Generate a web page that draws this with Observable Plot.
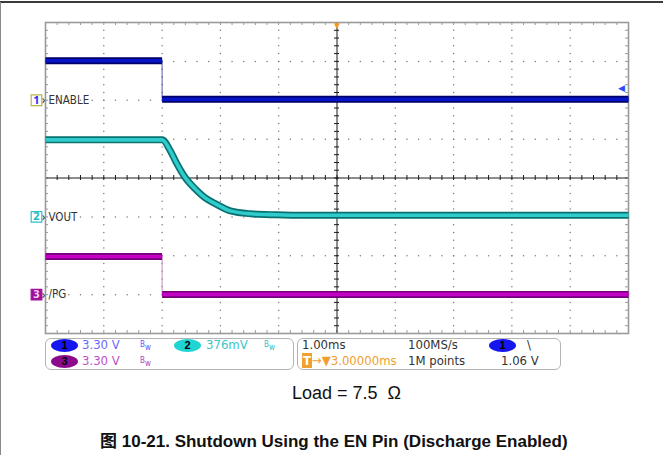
<!DOCTYPE html>
<html><head><meta charset="utf-8">
<script src="https://cdn.jsdelivr.net/npm/d3@7"></script>
<script src="https://cdn.jsdelivr.net/npm/@observablehq/plot@0.6"></script>
<style>
body{margin:0;background:#fff;}
#wrap{position:relative;width:663px;height:455px;overflow:hidden;font-family:"Liberation Sans",Arial,sans-serif;background:#fff;}
#chart{position:absolute;left:0;top:0;}
.abs{position:absolute;white-space:pre;}
.box{position:absolute;border:1px solid #b4b4b4;border-radius:6px;box-sizing:border-box;}
.st{position:absolute;white-space:pre;font-family:"Liberation Sans Narrow","DejaVu Sans Condensed",Arial,sans-serif;font-size:13px;line-height:14px;}
.badge{position:absolute;width:27px;height:13px;border-radius:50%;text-align:center;font-family:"Liberation Sans",Arial,sans-serif;font-weight:bold;font-size:11px;line-height:13px;color:#000;}
.bw{position:absolute;font-family:"DejaVu Sans Condensed",Arial,sans-serif;font-size:8px;line-height:9px;white-space:pre;}
.bw span{display:inline-block;vertical-align:top;}
</style></head>
<body><div id="wrap">
<div id="chart"></div>
</div>
<script>
// ---- data (time in ms relative to EN falling edge, volts) ----
const enableTimes = [-2, 0, 0, 8];
const enableVolts = [3.35, 3.35, 0.08, 0.08];
const voutTimes = [-2, 0, 0.14, 0.23, 0.40, 0.57, 0.74, 0.92, 1.17, 1.52, 1.95, 2.5, 8];
const voutVolts = [0.745, 0.745, 0.64, 0.54, 0.377, 0.27, 0.184, 0.126, 0.058, 0.03, 0.02, 0.015, 0.015];
const pgTimes = [-2, 0, 0, 8];
const pgVolts = [3.24, 3.24, 0.02, 0.02];

// scope settings
const channelIds = ["1", "2", "3"];
const channelNames = ["ENABLE", "VOUT", "/PG"];
const channelScales = [3.30, 0.376, 3.30];   // V/div
const channelOffsets = [2, -1, -3];          // ground position, div
const timeDomain = [-2, 8];                  // 1.00 ms/div, 10 div
const divDomain = [-4, 4];                   // 8 div
const triggerLevel = 1.06;                   // V on ch1
const horizPos = 3;                          // ms (center of screen)

const statusLeft = ["3.30 V", "376mV", "3.30 V"];
const statusRight = ["1.00ms", "100MS/s", "3.00000ms", "1M points", "1.06 V"];
const captionLoad = "Load = 7.5  Ω";
const captionTitle = "图 10-21. Shutdown Using the EN Pin (Discharge Enabled)";

// ---- derived rows ----
const r2 = v => Math.round(v * 1000) / 1000;
function rows(times, volts, ch, stepped) {
  return times.map((t, i) => ({t, y: channelOffsets[ch] + volts[i] / channelScales[ch], seg: stepped ? (i < 2 ? 0 : 1) : 0}));
}
const enRows = rows(enableTimes, enableVolts, 0, true);
const voRows = rows(voutTimes, voutVolts, 1, false);
const pgRows = rows(pgTimes, pgVolts, 2, true);

// grid
const minorX = d3.range(timeDomain[0] * 5, timeDomain[1] * 5 + 1).map(v => r2(v / 5));
const minorY = d3.range(divDomain[0] * 5, divDomain[1] * 5 + 1).map(v => r2(v / 5));
const majorX = d3.range(timeDomain[0] + 1, timeDomain[1]).filter(v => v !== horizPos);
const majorY = d3.range(divDomain[0] + 1, divDomain[1]).filter(v => v !== 0);
const gridDots = [];
for (const x of majorX) for (const y of minorY) gridDots.push({x, y});
for (const y of majorY) for (const x of minorX) gridDots.push({x, y});

const pxX = (timeDomain[1] - timeDomain[0]) / 583; // ms per px
const pxY = (divDomain[1] - divDomain[0]) / 311;   // div per px

const colors = {
  body: ["#0414c8", "#30cccc", "#c400c4"],
  edge: ["#00006a", "#0a7070", "#76007a"]
};

function trace(data, ch, curve) {
  return [
    Plot.line(data, {x: "t", y: "y", z: "seg", stroke: colors.edge[ch], strokeWidth: 7, strokeLinecap: "butt", strokeLinejoin: "miter", curve}),
    Plot.line(data, {x: "t", y: "y", z: "seg", stroke: colors.body[ch], strokeWidth: 3.6, strokeLinecap: "butt", strokeLinejoin: "miter", curve})
  ];
}

const chart = Plot.plot({
  width: 663, height: 340,
  marginLeft: 45, marginRight: 35, marginTop: 22, marginBottom: 7,
  x: {domain: timeDomain, axis: null},
  y: {domain: divDomain, axis: null},
  style: {background: "transparent", overflow: "visible"},
  marks: [
    Plot.dot(gridDots, {x: "x", y: "y", r: 0.75, fill: "#7a7a7a", stroke: null}),
    // edge ticks
    Plot.ruleX(minorX, {y1: divDomain[1], y2: divDomain[1] - 3 * pxY, stroke: "#999"}),
    Plot.ruleX(minorX, {y1: divDomain[0], y2: divDomain[0] + 3 * pxY, stroke: "#999"}),
    Plot.ruleY(minorY, {x1: timeDomain[0], x2: timeDomain[0] + 3 * pxX, stroke: "#999"}),
    Plot.ruleY(minorY, {x1: timeDomain[1], x2: timeDomain[1] - 3 * pxX, stroke: "#999"}),
    // center cross
    Plot.ruleX([horizPos], {stroke: "#1a1a1a", strokeWidth: 1}),
    Plot.ruleY([0], {stroke: "#1a1a1a", strokeWidth: 1}),
    Plot.ruleY(minorY, {x1: horizPos - 2.5 * pxX, x2: horizPos + 2.5 * pxX, stroke: "#1a1a1a"}),
    Plot.ruleX(minorX, {y1: -2.5 * pxY, y2: 2.5 * pxY, stroke: "#1a1a1a"}),
    Plot.frame({stroke: "#9a9a9a", strokeWidth: 1.6}),
    // vertical edges
    Plot.ruleX([enableTimes[1]], {y1: enRows[1].y, y2: enRows[2].y, stroke: "#5a5aa8", strokeWidth: 1}),
    Plot.ruleX([pgTimes[1]], {y1: pgRows[1].y, y2: pgRows[2].y, stroke: "#c08cc0", strokeWidth: 1}),
    ...trace(enRows, 0, "linear"),
    ...trace(voRows, 1, "monotone-x"),
    ...trace(pgRows, 2, "linear"),
    // channel labels
    Plot.text(channelNames, {x: timeDomain[0], y: (d, i) => channelOffsets[i], dx: 3, text: d => d, textAnchor: "start",
      fill: "#333", fontSize: 11.5, fontFamily: "Liberation Sans Narrow, DejaVu Sans Condensed, Arial"}),
    Plot.text(channelIds, {x: timeDomain[0], y: (d, i) => channelOffsets[i], dx: -2, text: () => "›", fill: "#444", fontSize: 13}),
    Plot.dot(channelIds, {x: timeDomain[0], y: (d, i) => channelOffsets[i], dx: -9, symbol: "square", r: 6,
      fill: (d, i) => ["#ffffff", "#ffffff", "#a0109c"][i], stroke: (d, i) => ["#b8b44a", "#30c0c8", "#a0109c"][i], strokeWidth: 1.2}),
    Plot.text(channelIds, {x: timeDomain[0], y: (d, i) => channelOffsets[i], dx: -9, text: d => d,
      fill: (d, i) => ["#1a30ff", "#28b8c0", "#ffd8ff"][i], fontSize: 11, fontWeight: "bold"}),
    // trigger markers
    Plot.text([horizPos], {x: d => d, y: divDomain[1], dy: 3, text: () => "▼", fill: "#f39a1c", fontSize: 10}),
    Plot.text([triggerLevel], {x: timeDomain[1], y: d => channelOffsets[0] + d / channelScales[0], dx: -7, text: () => "◀", fill: "#2a4cff", fontSize: 9})
  ]
});
document.getElementById("chart").appendChild(chart);

// ---- status bar & captions ----
const wrap = document.getElementById("wrap");
function add(cls, html, style) { const e = document.createElement("div"); e.className = cls; e.innerHTML = html; Object.assign(e.style, style); wrap.appendChild(e); return e; }
add("abs", "", {left: "0px", top: "1px", width: "663px", height: "2px", background: "#3a3a3a"});
add("abs", "", {left: "0px", top: "2px", width: "1px", height: "453px", background: "#8a8a8a"});
add("box", "", {left: "45px", top: "338px", width: "249px", height: "32px"});
add("box", "", {left: "297px", top: "338px", width: "264px", height: "32px"});
add("badge", "1", {left: "51px", top: "339px", background: "#1616f0"});
add("badge", "3", {left: "51px", top: "355px", background: "#8c0a8c"});
add("badge", "2", {left: "174px", top: "339px", background: "#20d4d4"});
add("badge", "1", {left: "489px", top: "339px", background: "#1616f0"});
add("st", statusLeft[0], {left: "82px", top: "338px", color: "#6a6aff"});
add("st", statusLeft[1], {left: "206px", top: "338px", color: "#3cc4c8"});
add("st", statusLeft[2], {left: "82px", top: "354px", color: "#c050c8"});
const bwHtml = '<span>B</span><span style="margin-top:3px">w</span>';
add("bw", bwHtml, {left: "140px", top: "340px", color: "#5a5aff"});
add("bw", bwHtml, {left: "264px", top: "340px", color: "#30c0c8"});
add("bw", bwHtml, {left: "140px", top: "356px", color: "#b040c0"});
add("st", statusRight[0], {left: "302px", top: "338px", color: "#333"});
add("st", statusRight[1], {left: "408px", top: "338px", color: "#333"});
add("st", "\\", {left: "527px", top: "338px", color: "#333"});
add("st", '<span style="background:#f0a030;color:#fff;padding:0 1px;font-weight:bold">T</span>→▼' + statusRight[2], {left: "302px", top: "354px", color: "#f0a030"});
add("st", statusRight[3], {left: "408px", top: "354px", color: "#333"});
add("st", statusRight[4], {left: "501px", top: "354px", color: "#333"});
add("abs", captionLoad, {left: "292px", top: "383px", fontSize: "18px", color: "#111"});
add("abs", captionTitle, {left: "100px", top: "427px", fontSize: "17px", fontWeight: "bold", color: "#111",
  fontFamily: '"Liberation Sans", Arial, "Noto Sans CJK SC", sans-serif'});
</script>
</body></html>
